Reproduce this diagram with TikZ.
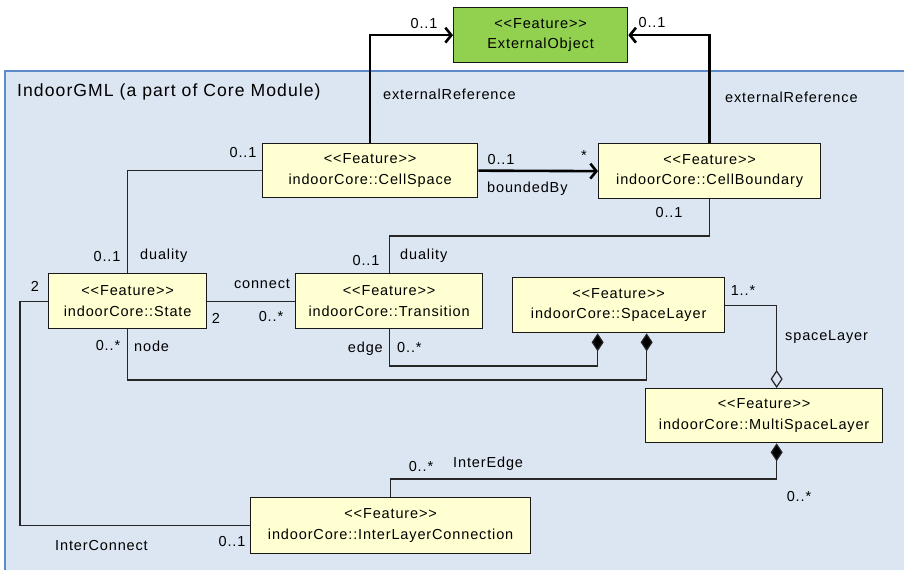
\documentclass[tikz,border=0pt]{standalone}
\usepackage{fontspec}
\newfontfamily\umlfont{Liberation Sans}[LetterSpace=6]
\usetikzlibrary{arrows.meta,calc}
\definecolor{pkgfill}{HTML}{DCE6F2}
\definecolor{pkgline}{HTML}{5B8BC8}
\definecolor{clsfill}{HTML}{FFFFD2}
\definecolor{extfill}{HTML}{92D050}
\begin{document}
\begin{tikzpicture}[x=1pt,y=-1pt,
  cls/.style={draw=black!90, fill=clsfill, line width=1.3pt, align=center,
    inner sep=0pt, anchor=north west,
    font=\umlfont\fontsize{14.5}{20.5}\selectfont},
  lbl/.style={inner sep=0pt, font=\umlfont\fontsize{14.5}{17}\selectfont},
  conn/.style={draw=black!85, line width=1.2pt},
  navarr/.style={draw=black, line width=2.6pt, -{Straight Barb[length=6pt,width=15pt]}},
  comp/.style={conn, -{Diamond[length=18pt,width=12pt,fill=black]}},
  agg/.style={conn, -{Diamond[length=18pt,width=12pt,fill=pkgfill]}}]
\useasboundingbox (0,0) rectangle (904,570);
\fill[white] (0,0) rectangle (904,570);

% package frame
\fill[pkgfill] (5,71) rectangle (904,570);
\draw[pkgline, line width=2.5pt] (5,570) -- (5,71) -- (904,71);
\node[lbl, anchor=west, font=\umlfont\fontsize{17.6}{20}\selectfont] (pkgname) at (17,92) {IndoorGML (a part of Core Module)};

% classes
\node[cls, fill=extfill, minimum width=174pt, minimum height=55pt] (eo) at (453,7) {<<Feature>>\\ExternalObject};
\node[cls, minimum width=215pt, minimum height=54pt] (cs) at (262,143) {<<Feature>>\\indoorCore::CellSpace};
\node[cls, minimum width=222pt, minimum height=55pt] (cb) at (598,143) {<<Feature>>\\indoorCore::CellBoundary};
\node[cls, minimum width=158pt, minimum height=55pt] (st) at (48,273) {<<Feature>>\\indoorCore::State};
\node[cls, minimum width=187pt, minimum height=55pt] (tr) at (295,273) {<<Feature>>\\indoorCore::Transition};
\node[cls, minimum width=212pt, minimum height=55pt] (sl) at (512,277) {<<Feature>>\\indoorCore::SpaceLayer};
\node[cls, minimum width=237pt, minimum height=54pt] (msl) at (645,388) {<<Feature>>\\indoorCore::MultiSpaceLayer};
\node[cls, minimum width=280pt, minimum height=56pt] (ilc) at (250,497) {<<Feature>>\\indoorCore::InterLayerConnection};

% helper coordinates for bends
\coordinate (yCB) at (0,236);
\coordinate (yEdge) at (0,366);
\coordinate (yNode) at (0,380);
\coordinate (yInter) at (0,479);
\coordinate (xLeft) at (20,0);
\coordinate (slA) at ($(sl.south)+(-21,0)$);
\coordinate (slB) at ($(sl.south)+(28,0)$);
\coordinate (mslT) at ($(msl.north)+(12.5,0)$);
\coordinate (mslB) at ($(msl.south)+(12.5,0)$);

% associations
\draw[navarr] (cs.north) |- (eo.west);
\draw[navarr] (cb.north) |- (eo.east);
\draw[navarr] (cs.east) -- (cb.west);
\draw[conn] (cs.west) -| (st.north);
\draw[conn] (cb.south) |- (tr.north |- yCB) -- (tr.north);
\draw[conn] (st.east) -- (tr.west);
\draw[comp] (tr.south) |- (slA |- yEdge) -- (slA);
\draw[comp] (st.south) |- (slB |- yNode) -- (slB);
\draw[agg] (sl.east) -| (mslT);
\draw[conn, {Diamond[length=18pt,width=12pt,fill=black]}-] (mslB) |- (ilc.north |- yInter) -- (ilc.north);
\draw[conn] (st.west) -- (xLeft |- st.west) |- (ilc.west);

% role names and multiplicities
\node[lbl] (m1) at (424,24) {0..1};
\node[lbl] (m2) at (652,23) {0..1};
\node[lbl, anchor=west] (r1) at (383,94) {externalReference};
\node[lbl, anchor=west] (r2) at (725,97) {externalReference};
\node[lbl] (m3) at (243,153) {0..1};
\node[lbl] (m4) at (501,160) {0..1};
\node[lbl] (m5) at (584,156) {*};
\node[lbl, anchor=west] (r3) at (487,189) {boundedBy};
\node[lbl] (m6) at (669,213) {0..1};
\node[lbl] (m7) at (366,261) {0..1};
\node[lbl, anchor=west] (r4) at (400,256) {duality};
\node[lbl] (m8) at (107,257) {0..1};
\node[lbl, anchor=west] (r5) at (140,256) {duality};
\node[lbl] (m9) at (35,286) {2};
\node[lbl] (r6) at (262,284) {connect};
\node[lbl] (m10) at (216,318) {2};
\node[lbl] (m11) at (271,317) {0..*};
\node[lbl] (m12) at (108,346) {0..*};
\node[lbl, anchor=west] (r7) at (134,346) {node};
\node[lbl, anchor=east] (r8) at (383,349) {edge};
\node[lbl, anchor=west] (m13) at (397,348) {0..*};
\node[lbl] (m14) at (743,291) {1..*};
\node[lbl, anchor=west] (r9) at (785,337) {spaceLayer};
\node[lbl] (m15) at (421,467) {0..*};
\node[lbl, anchor=west] (r10) at (453,464) {InterEdge};
\node[lbl] (m16) at (799,497) {0..*};
\node[lbl, anchor=west] (r11) at (55,545) {InterConnect};
\node[lbl] (m17) at (232,541) {0..1};
\end{tikzpicture}
\end{document}
